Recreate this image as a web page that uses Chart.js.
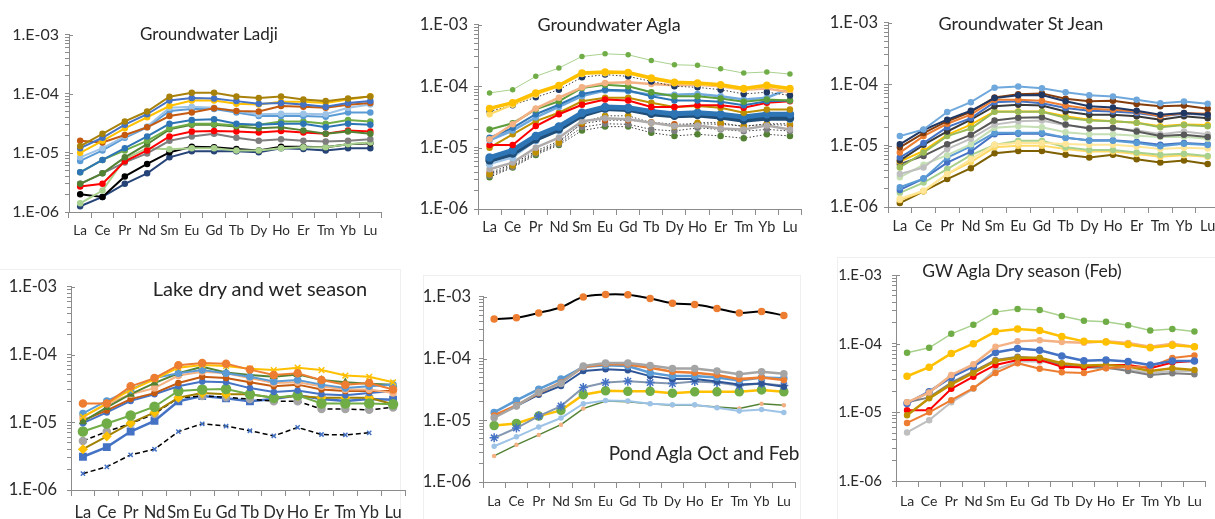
<!DOCTYPE html>
<html>
<head>
<meta charset="utf-8">
<script src="https://cdn.jsdelivr.net/npm/chart.js@4.4.1/dist/chart.umd.min.js"></script>
<style>
  html, body { margin: 0; padding: 0; width: 1215px; height: 519px; overflow: hidden; background: #fff; }
  canvas { position: absolute; }
  .ttl { position: absolute; font-family: Lato, "Open Sans", sans-serif; color: #262626; white-space: nowrap; transform: translate(-50%, -50%); }
  .frame { position: absolute; border: 1px solid #efefef; }
</style>
</head>
<body>
<div class="frame" style="left:-2px;top:269px;width:402px;height:260px;border-left:none;"></div>
<div class="frame" style="left:423px;top:275px;width:376px;height:260px;"></div>
<div class="frame" style="left:837px;top:257px;width:400px;height:270px;"></div>
<script>
// REE categories and axis labels
const elements = ['La', 'Ce', 'Pr', 'Nd', 'Sm', 'Eu', 'Gd', 'Tb', 'Dy', 'Ho', 'Er', 'Tm', 'Yb', 'Lu'];
const yTickLabels = ['1.E-06', '1.E-05', '1.E-04', '1.E-03'];

// Groundwater Ladji
const ladjiSeries = [
  [1.3e-5, 2.1e-5, 3.4e-5, 5.0e-5, 8.9e-5, 1.04e-4, 1.04e-4, 9.0e-5, 8.5e-5, 9.0e-5, 8.0e-5, 7.5e-5, 8.3e-5, 9.0e-5],
  [1.2e-5, 1.8e-5, 3.0e-5, 4.5e-5, 7.7e-5, 8.5e-5, 8.3e-5, 7.5e-5, 6.8e-5, 7.0e-5, 6.6e-5, 6.0e-5, 7.0e-5, 7.5e-5],
  [1.0e-5, 1.6e-5, 2.6e-5, 4.0e-5, 6.2e-5, 7.7e-5, 7.7e-5, 6.8e-5, 6.6e-5, 7.3e-5, 7.3e-5, 7.0e-5, 8.0e-5, 9.1e-5],
  [1.6e-5, 1.5e-5, 2.0e-5, 2.7e-5, 4.2e-5, 4.8e-5, 5.7e-5, 5.1e-5, 5.0e-5, 6.2e-5, 6.0e-5, 5.8e-5, 6.5e-5, 7.0e-5],
  [8.4e-6, 1.2e-5, 1.9e-5, 2.8e-5, 5.8e-5, 6.0e-5, 5.8e-5, 5.1e-5, 4.5e-5, 4.6e-5, 4.6e-5, 4.5e-5, 5.8e-5, 6.6e-5],
  [7.3e-6, 1.1e-5, 1.8e-5, 2.7e-5, 5.1e-5, 5.5e-5, 5.5e-5, 4.8e-5, 4.2e-5, 4.2e-5, 4.2e-5, 4.1e-5, 4.8e-5, 4.8e-5],
  [4.7e-6, 7.6e-6, 1.2e-5, 1.9e-5, 3.1e-5, 3.6e-5, 3.7e-5, 3.1e-5, 3.0e-5, 3.1e-5, 3.1e-5, 2.7e-5, 3.1e-5, 3.0e-5],
  [4.7e-6, 7.6e-6, 1.1e-5, 1.6e-5, 2.6e-5, 3.1e-5, 3.1e-5, 2.9e-5, 3.0e-5, 3.4e-5, 3.4e-5, 3.1e-5, 3.6e-5, 3.4e-5],
  [3.0e-6, 4.5e-6, 8.4e-6, 1.4e-5, 2.5e-5, 3.0e-5, 3.0e-5, 2.8e-5, 2.6e-5, 2.7e-5, 2.4e-5, 2.1e-5, 2.3e-5, 2.1e-5],
  [2.7e-6, 3.0e-6, 7.2e-6, 1.1e-5, 1.9e-5, 2.3e-5, 2.35e-5, 2.3e-5, 2.2e-5, 2.35e-5, 2.2e-5, 2.1e-5, 2.4e-5, 2.3e-5],
  [3.0e-6, 4.5e-6, 6.9e-6, 9.8e-6, 1.6e-5, 1.9e-5, 2.1e-5, 1.8e-5, 1.6e-5, 1.7e-5, 1.6e-5, 1.55e-5, 1.6e-5, 1.7e-5],
  [1.4e-6, 2.3e-6, 7.9e-6, 1.2e-5, 1.15e-5, 1.2e-5, 1.2e-5, 1.1e-5, 1.1e-5, 1.2e-5, 1.25e-5, 1.25e-5, 1.4e-5, 1.5e-5],
  [2.0e-6, 1.8e-6, 4.0e-6, 6.5e-6, 1.02e-5, 1.27e-5, 1.25e-5, 1.16e-5, 1.1e-5, 1.27e-5, 1.27e-5, 1.25e-5, 1.4e-5, 1.45e-5],
  [1.25e-6, 1.8e-6, 3.0e-6, 4.5e-6, 8.4e-6, 1.06e-5, 1.06e-5, 1.06e-5, 1.02e-5, 1.2e-5, 1.16e-5, 1.1e-5, 1.2e-5, 1.2e-5]
];

// Groundwater Agla
const aglaSeries = [
  [7.8e-5, 8.8e-5, 1.45e-4, 1.98e-4, 3.06e-4, 3.38e-4, 3.26e-4, 2.64e-4, 2.24e-4, 2.19e-4, 1.93e-4, 1.64e-4, 1.71e-4, 1.58e-4],
  [4.35e-5, 5.4e-5, 7.8e-5, 1.03e-4, 1.65e-4, 1.7e-4, 1.68e-4, 1.36e-4, 1.16e-4, 1.13e-4, 1.06e-4, 9.2e-5, 1.04e-4, 9.2e-5],
  [3.5e-5, 5.0e-5, 7.3e-5, 1.0e-4, 1.58e-4, 1.63e-4, 1.63e-4, 1.31e-4, 1.12e-4, 1.08e-4, 1.02e-4, 8.8e-5, 1.0e-4, 8.8e-5],
  [3.9e-5, 4.9e-5, 6.6e-5, 8.8e-5, 1.4e-4, 1.55e-4, 1.45e-4, 1.2e-4, 1.0e-4, 9.6e-5, 8.8e-5, 7.5e-5, 8.0e-5, 7.1e-5],
  [1.37e-5, 2.4e-5, 4.35e-5, 6.5e-5, 9.6e-5, 1.13e-4, 1.16e-4, 1.09e-4, 1.04e-4, 1.06e-4, 1.0e-4, 8.8e-5, 9.2e-5, 8.0e-5],
  [1.98e-5, 2.5e-5, 4.2e-5, 5.7e-5, 9.4e-5, 1.06e-4, 1.0e-4, 8.0e-5, 6.9e-5, 6.9e-5, 6.3e-5, 5.6e-5, 6.1e-5, 5.85e-5],
  [1.45e-5, 2.1e-5, 3.5e-5, 5.0e-5, 7.5e-5, 8.8e-5, 8.5e-5, 6.9e-5, 5.85e-5, 5.85e-5, 5.6e-5, 4.9e-5, 5.7e-5, 5.85e-5],
  [1.32e-5, 1.9e-5, 3.1e-5, 4.6e-5, 6.9e-5, 8.5e-5, 8.3e-5, 7.3e-5, 7.3e-5, 7.5e-5, 6.9e-5, 6.1e-5, 6.5e-5, 9.2e-5],
  [1.1e-5, 1.1e-5, 2.25e-5, 3.5e-5, 5.0e-5, 6.1e-5, 5.85e-5, 4.6e-5, 4.6e-5, 4.9e-5, 4.9e-5, 4.45e-5, 5.4e-5, 5.7e-5],
  [1.0e-5, 1.65e-5, 2.7e-5, 3.7e-5, 5.7e-5, 6.5e-5, 6.5e-5, 5.4e-5, 4.6e-5, 4.75e-5, 4.45e-5, 3.7e-5, 4.2e-5, 4.2e-5],
  [6.9e-6, 9.0e-6, 1.55e-5, 2.2e-5, 3.7e-5, 4.6e-5, 4.45e-5, 3.9e-5, 3.55e-5, 3.7e-5, 3.5e-5, 3.15e-5, 3.5e-5, 3.5e-5],
  [6.2e-6, 8.0e-6, 1.37e-5, 2.0e-5, 3.4e-5, 4.35e-5, 4.2e-5, 3.55e-5, 3.3e-5, 3.4e-5, 3.15e-5, 2.8e-5, 3.05e-5, 3.0e-5],
  [5.4e-6, 6.9e-6, 1.3e-5, 1.87e-5, 3.5e-5, 4.2e-5, 4.45e-5, 3.7e-5, 3.5e-5, 3.5e-5, 3.15e-5, 2.9e-5, 3.3e-5, 2.9e-5],
  [4.45e-6, 5.7e-6, 1.0e-5, 1.45e-5, 2.7e-5, 3.0e-5, 2.9e-5, 2.55e-5, 2.25e-5, 2.3e-5, 2.05e-5, 1.98e-5, 2.3e-5, 1.98e-5],
  [3.7e-6, 5.1e-6, 8.3e-6, 1.2e-5, 2.55e-5, 3.3e-5, 3.3e-5, 2.55e-5, 2.2e-5, 2.55e-5, 2.55e-5, 2.2e-5, 2.45e-5, 2.45e-5],
  [3.9e-6, 5.4e-6, 8.8e-6, 1.28e-5, 2.45e-5, 2.8e-5, 2.8e-5, 2.6e-5, 2.4e-5, 2.45e-5, 2.4e-5, 2.25e-5, 2.4e-5, 2.3e-5],
  [3.5e-6, 4.9e-6, 8.0e-6, 1.15e-5, 2.16e-5, 2.45e-5, 2.4e-5, 1.98e-5, 1.87e-5, 2.1e-5, 1.98e-5, 1.85e-5, 1.98e-5, 1.87e-5],
  [3.3e-6, 4.75e-6, 7.6e-6, 1.1e-5, 1.9e-5, 2.2e-5, 2.2e-5, 1.75e-5, 1.55e-5, 1.65e-5, 1.55e-5, 1.42e-5, 1.65e-5, 1.55e-5]
];

// Groundwater St Jean
const stJeanSeries = [
  [1.43e-5, 1.83e-5, 3.53e-5, 5.1e-5, 8.8e-5, 9.2e-5, 8.6e-5, 7.4e-5, 6.6e-5, 6.3e-5, 5.6e-5, 4.9e-5, 5.25e-5, 4.8e-5],
  [1.05e-5, 1.8e-5, 2.65e-5, 3.7e-5, 5.95e-5, 6.6e-5, 6.7e-5, 5.3e-5, 4.4e-5, 4.2e-5, 3.7e-5, 3.2e-5, 3.4e-5, 3.2e-5],
  [9.4e-6, 1.6e-5, 2.5e-5, 3.55e-5, 6.1e-5, 6.9e-5, 7.1e-5, 5.8e-5, 5.3e-5, 5.4e-5, 4.75e-5, 4.4e-5, 4.5e-5, 4.0e-5],
  [7.7e-6, 1.43e-5, 2.27e-5, 3.2e-5, 5.6e-5, 5.6e-5, 5.4e-5, 4.5e-5, 4.0e-5, 3.85e-5, 3.6e-5, 3.0e-5, 3.4e-5, 3.3e-5],
  [6.4e-6, 1.1e-5, 2.0e-5, 2.8e-5, 5.1e-5, 5.3e-5, 4.9e-5, 4.1e-5, 3.7e-5, 3.6e-5, 3.4e-5, 3.0e-5, 3.3e-5, 3.2e-5],
  [5.7e-6, 1.03e-5, 1.7e-5, 2.65e-5, 4.4e-5, 4.65e-5, 4.5e-5, 3.6e-5, 3.2e-5, 3.2e-5, 3.0e-5, 2.65e-5, 3.0e-5, 2.8e-5],
  [4.4e-6, 7.7e-6, 1.43e-5, 1.9e-5, 3.55e-5, 3.55e-5, 3.55e-5, 2.85e-5, 2.56e-5, 2.5e-5, 2.35e-5, 2.0e-5, 2.16e-5, 2.07e-5],
  [5.5e-6, 8.2e-6, 1.5e-5, 2.2e-5, 3.6e-5, 3.6e-5, 3.6e-5, 3.0e-5, 2.65e-5, 2.5e-5, 2.35e-5, 2.07e-5, 2.2e-5, 2.16e-5],
  [5.0e-6, 6.8e-6, 1.05e-5, 1.5e-5, 2.56e-5, 2.85e-5, 2.9e-5, 2.2e-5, 1.9e-5, 1.95e-5, 1.7e-5, 1.43e-5, 1.5e-5, 1.38e-5],
  [3.45e-6, 4.4e-6, 8.8e-6, 1.3e-5, 2.2e-5, 2.5e-5, 2.56e-5, 2.15e-5, 1.95e-5, 1.9e-5, 1.78e-5, 1.53e-5, 1.7e-5, 1.53e-5],
  [3.05e-6, 4.9e-6, 7.0e-6, 1.05e-5, 1.95e-5, 2.07e-5, 2.0e-5, 1.65e-5, 1.53e-5, 1.53e-5, 1.45e-5, 1.38e-5, 1.4e-5, 1.3e-5],
  [2.1e-6, 2.9e-6, 6.4e-6, 9.7e-6, 1.62e-5, 1.62e-5, 1.62e-5, 1.35e-5, 1.2e-5, 1.2e-5, 1.1e-5, 9.8e-6, 1.07e-5, 1.02e-5],
  [1.9e-6, 2.9e-6, 5.3e-6, 8.0e-6, 1.53e-5, 1.56e-5, 1.56e-5, 1.35e-5, 1.22e-5, 1.22e-5, 1.15e-5, 1.03e-5, 1.1e-5, 1.05e-5],
  [1.36e-6, 1.85e-6, 3.45e-6, 6.0e-6, 1.03e-5, 1.1e-5, 1.1e-5, 1.06e-5, 1.03e-5, 1.03e-5, 9.7e-6, 8.8e-6, 9.2e-6, 9.0e-6],
  [1.7e-6, 2.5e-6, 4.15e-6, 7.0e-6, 1.03e-5, 1.2e-5, 1.2e-5, 9.4e-6, 8.5e-6, 8.5e-6, 7.7e-6, 7.1e-6, 7.4e-6, 6.8e-6],
  [1.3e-6, 1.8e-6, 3.45e-6, 5.4e-6, 9.4e-6, 1.0e-5, 1.0e-5, 8.8e-6, 8.0e-6, 8.0e-6, 7.3e-6, 6.6e-6, 7.0e-6, 6.6e-6],
  [1.16e-6, 1.8e-6, 2.85e-6, 4.3e-6, 7.5e-6, 8.2e-6, 8.2e-6, 7.1e-6, 6.4e-6, 7.1e-6, 6.0e-6, 5.3e-6, 5.7e-6, 5.0e-6]
];

// Lake dry and wet season
const lakeSeries = [
  [1.9e-5, 1.9e-5, 3.4e-5, 4.5e-5, 6.95e-5, 7.5e-5, 7.35e-5, 6.0e-5, 5.0e-5, 5.3e-5, 4.2e-5, 3.6e-5, 3.8e-5, 3.05e-5],
  [1.2e-5, 1.9e-5, 3.0e-5, 4.3e-5, 6.4e-5, 7.0e-5, 6.8e-5, 6.2e-5, 5.9e-5, 6.4e-5, 5.9e-5, 4.9e-5, 4.7e-5, 3.9e-5],
  [1.35e-5, 2.07e-5, 3.0e-5, 4.5e-5, 5.3e-5, 5.9e-5, 5.3e-5, 4.7e-5, 4.0e-5, 4.2e-5, 3.6e-5, 3.2e-5, 3.4e-5, 3.6e-5],
  [1.02e-5, 1.66e-5, 2.6e-5, 3.8e-5, 5.3e-5, 6.6e-5, 5.45e-5, 5.0e-5, 4.7e-5, 5.1e-5, 4.2e-5, 3.9e-5, 3.7e-5, 3.6e-5],
  [1.2e-5, 1.85e-5, 2.6e-5, 3.2e-5, 4.9e-5, 5.6e-5, 5.3e-5, 4.5e-5, 3.8e-5, 3.9e-5, 3.4e-5, 3.05e-5, 3.05e-5, 2.7e-5],
  [1.07e-5, 1.5e-5, 2.2e-5, 2.7e-5, 3.8e-5, 4.7e-5, 4.5e-5, 3.9e-5, 3.4e-5, 3.6e-5, 3.05e-5, 2.9e-5, 2.9e-5, 2.9e-5],
  [9.7e-6, 1.4e-5, 2.07e-5, 2.6e-5, 3.4e-5, 4.0e-5, 3.9e-5, 3.2e-5, 2.8e-5, 2.95e-5, 2.6e-5, 2.5e-5, 2.7e-5, 2.9e-5],
  [7.3e-6, 9.6e-6, 1.26e-5, 1.7e-5, 2.9e-5, 3.05e-5, 3.1e-5, 2.6e-5, 2.3e-5, 2.5e-5, 1.9e-5, 1.9e-5, 1.9e-5, 1.85e-5],
  [4.0e-6, 6.2e-6, 9.7e-6, 1.4e-5, 2.3e-5, 2.7e-5, 2.6e-5, 2.6e-5, 2.3e-5, 2.45e-5, 2.3e-5, 2.3e-5, 2.3e-5, 1.85e-5],
  [5.3e-6, 7.3e-6, 9.6e-6, 1.33e-5, 2.3e-5, 2.45e-5, 2.35e-5, 2.2e-5, 2.05e-5, 2.05e-5, 1.57e-5, 1.57e-5, 1.53e-5, 1.66e-5],
  [3.1e-6, 4.3e-6, 7.3e-6, 1.05e-5, 2.05e-5, 2.45e-5, 2.27e-5, 2.05e-5, 2.2e-5, 2.5e-5, 2.2e-5, 2.07e-5, 2.2e-5, 2.15e-5],
  [1.75e-6, 2.2e-6, 3.3e-6, 4.0e-6, 7.3e-6, 9.5e-6, 8.8e-6, 7.5e-6, 6.3e-6, 8.4e-6, 6.6e-6, 6.5e-6, 7.0e-6, null]
];

// Pond Agla Oct and Feb
const pondSeries = [
  [4.4e-4, 4.6e-4, 5.5e-4, 6.8e-4, 1.0e-3, 1.09e-3, 1.08e-3, 9.4e-4, 7.9e-4, 7.5e-4, 6.5e-4, 5.5e-4, 5.8e-4, 5.0e-4],
  [1.1e-5, 1.7e-5, 2.85e-5, 3.95e-5, 7.6e-5, 8.5e-5, 8.5e-5, 7.75e-5, 6.9e-5, 6.9e-5, 6.3e-5, 5.6e-5, 6.1e-5, 5.7e-5],
  [1.2e-5, 1.75e-5, 2.75e-5, 4.1e-5, 7.3e-5, 8.2e-5, 8.0e-5, 7.1e-5, 6.1e-5, 5.9e-5, 5.4e-5, 4.65e-5, 4.95e-5, 4.5e-5],
  [1.34e-5, 2.1e-5, 3.2e-5, 4.65e-5, 7.3e-5, 7.8e-5, 7.6e-5, 5.9e-5, 5.2e-5, 5.2e-5, 4.95e-5, 4.4e-5, 4.95e-5, 4.8e-5],
  [1.15e-5, 1.7e-5, 2.6e-5, 3.6e-5, 6.3e-5, 6.7e-5, 6.45e-5, 5.2e-5, 4.65e-5, 4.65e-5, 4.25e-5, 3.8e-5, 3.95e-5, 3.5e-5],
  [5.2e-6, 7.5e-6, 1.17e-5, 1.7e-5, 3.4e-5, 4.1e-5, 4.3e-5, 4.1e-5, 3.95e-5, 4.25e-5, 4.1e-5, 3.65e-5, 3.95e-5, 3.65e-5],
  [8.2e-6, 8.9e-6, 1.17e-5, 1.45e-5, 2.6e-5, 3.0e-5, 2.95e-5, 2.95e-5, 2.75e-5, 2.9e-5, 2.9e-5, 2.9e-5, 3.1e-5, 2.9e-5],
  [3.8e-6, 5.4e-6, 7.8e-6, 1.09e-5, 1.86e-5, 2.1e-5, 2.05e-5, 1.86e-5, 1.78e-5, 1.78e-5, 1.6e-5, 1.42e-5, 1.5e-5, 1.34e-5],
  [2.65e-6, 4.0e-6, 5.8e-6, 8.5e-6, 1.55e-5, 2.05e-5, 2.0e-5, 1.86e-5, 1.75e-5, 1.75e-5, 1.65e-5, 1.55e-5, 1.86e-5, 1.75e-5]
];

// GW Agla Dry season (Feb)
const aglaDrySeries = [
  [7.4e-5, 8.7e-5, 1.39e-4, 1.88e-4, 2.88e-4, 3.2e-4, 3.1e-4, 2.53e-4, 2.15e-4, 2.08e-4, 1.86e-4, 1.55e-4, 1.63e-4, 1.5e-4],
  [3.35e-5, 4.55e-5, 7.2e-5, 1.0e-4, 1.5e-4, 1.63e-4, 1.55e-4, 1.27e-4, 1.08e-4, 1.06e-4, 9.7e-5, 8.7e-5, 9.5e-5, 9.0e-5],
  [1.4e-5, 1.94e-5, 3.5e-5, 5.0e-5, 9.0e-5, 1.08e-4, 1.12e-4, 1.06e-4, 1.03e-4, 1.08e-4, 1.02e-4, 9.0e-5, 1.0e-4, 9.0e-5],
  [1.35e-5, 2.0e-5, 3.25e-5, 4.65e-5, 7.45e-5, 8.5e-5, 8.0e-5, 6.6e-5, 5.65e-5, 5.8e-5, 5.5e-5, 4.9e-5, 5.6e-5, 5.6e-5],
  [7.0e-6, 1.0e-5, 1.5e-5, 2.25e-5, 3.75e-5, 5.2e-5, 4.3e-5, 3.85e-5, 3.75e-5, 4.4e-5, 4.6e-5, 4.6e-5, 6.2e-5, 6.7e-5],
  [9.1e-6, 1.6e-5, 2.55e-5, 3.75e-5, 5.6e-5, 6.25e-5, 6.25e-5, 5.2e-5, 4.8e-5, 4.9e-5, 4.65e-5, 4.0e-5, 4.4e-5, 4.15e-5],
  [1.07e-5, 1.07e-5, 2.2e-5, 3.3e-5, 4.9e-5, 5.8e-5, 5.8e-5, 4.6e-5, 4.5e-5, 4.9e-5, 4.9e-5, 4.4e-5, 5.3e-5, 5.6e-5],
  [1.4e-5, 1.65e-5, 2.7e-5, 3.95e-5, 5.8e-5, 6.45e-5, 6.1e-5, 4.9e-5, 4.5e-5, 4.5e-5, 4.0e-5, 3.5e-5, 3.7e-5, 3.6e-5],
  [5.1e-6, 7.7e-6, 1.4e-5, 2.2e-5, 4.2e-5, 5.5e-5, 5.5e-5, 5.0e-5, 4.65e-5, 4.4e-5, 4.2e-5, 3.75e-5, 4.0e-5, 3.95e-5]
];

// ---- styles (colour, line width, marker) ----
const AXIS = '#8c8c8c';
const TXT = '#2b2b2b';
const FONT = 'Lato, "Open Sans", sans-serif';
const DOT = [1.5, 2];
const DASH = [5, 3];

const ladjiStyle = [
  { c: '#A8820A' }, { c: '#4472C4' }, { c: '#FFC000' }, { c: '#C55A11' }, { c: '#9DC3E6' },
  { c: '#5B9BD5' }, { c: '#2E75B6' }, { c: '#70AD47' }, { c: '#548235' }, { c: '#FF0000' },
  { c: '#7F7F7F' }, { c: '#A9D18E' }, { c: '#000000' }, { c: '#264478' }
];
const aglaStyle = [
  { c: '#70AD47', line: '#A9D18E', w: 1, r: 2 },
  { c: '#FFC000', w: 3.5, r: 3 },
  { c: '#FFD966', w: 2 },
  { c: '#1F3864', line: '#404040', w: 1, d: DOT },
  { c: '#F4B183', w: 2.5 },
  { c: '#5E9E3A', w: 2 },
  { c: '#2E75B6', w: 2 },
  { c: '#6FA8DC', w: 2.5 },
  { c: '#FF0000', w: 2 },
  { c: '#BF9000', w: 2 },
  { c: '#2E75B6', w: 5, r: 3.5 },
  { c: '#1F4E79', w: 5, r: 3.5 },
  { c: '#9DC3E6', w: 2, r: 3 },
  { c: '#AFABAB', w: 2.5 },
  { c: '#BF9000', line: '#404040', w: 1, d: DOT },
  { c: '#C55A11', line: '#404040', w: 1, d: DOT },
  { c: '#7F7F7F', line: '#404040', w: 1, d: DOT },
  { c: '#548235', line: '#404040', w: 1, d: DOT }
];
const stJeanStyle = [
  { c: '#6FA8DC' }, { c: '#203864' }, { c: '#843C0C' }, { c: '#ED7D31' }, { c: '#4472C4' },
  { c: '#3A3A3A' }, { c: '#9BBB59' }, { c: '#FFC000' }, { c: '#595959' }, { c: '#BFBFBF' },
  { c: '#C5E0B4' }, { c: '#5B9BD5' }, { c: '#4472C4' }, { c: '#FFE699' }, { c: '#A9D18E' },
  { c: '#FFD966' }, { c: '#7F6000' }
];
const lakeStyle = [
  { c: '#ED7D31', r: 3.5 },
  { c: '#FFC000', p: 'crossRot', r: 4 },
  { c: '#5B9BD5', r: 3 },
  { c: '#548235', p: 'triangle', r: 3.5 },
  { c: '#F4B183', r: 3 },
  { c: '#C55A11' },
  { c: '#4472C4' },
  { c: '#70AD47', r: 4.5 },
  { c: '#FFC000', line: '#A08000', p: 'rectRot', r: 4 },
  { c: '#A5A5A5', line: '#000000', w: 1.5, d: DASH, r: 3.5 },
  { c: '#4472C4', p: 'rect', r: 4.5, w: 2.5 },
  { c: '#4472C4', line: '#000000', w: 1.5, d: DASH, p: 'crossRot', r: 3 }
];
const pondStyle = [
  { c: '#ED7D31', line: '#000000', w: 2, r: 3, t: 0.35 },
  { c: '#A5A5A5', w: 2.5, r: 3 },
  { c: '#ED7D31', w: 2.5 },
  { c: '#5B9BD5', w: 2.5, r: 3 },
  { c: '#2F5597', w: 2 },
  { c: '#4472C4', line: '#8497B0', w: 2, p: 'star', r: 4.5 },
  { c: '#70AD47', line: '#FFC000', w: 2.5, r: 4 },
  { c: '#9DC3E6', w: 2, r: 2 },
  { c: '#F4B183', line: '#548235', w: 1.5, r: 1.5 }
];
const aglaDryStyle = [
  { c: '#70AD47', line: '#A9D18E', w: 1.5 },
  { c: '#FFC000', w: 2.5, r: 3 },
  { c: '#F4B183', w: 2.5 },
  { c: '#4472C4', w: 2.5, r: 3 },
  { c: '#ED7D31', w: 2 },
  { c: '#BF9000', w: 2.5 },
  { c: '#FF0000', w: 2 },
  { c: '#7F7F7F', w: 2 },
  { c: '#BFBFBF', w: 2 }
];

// ---- helpers ----
function tickLabel(v) {
  const e = Math.round(Math.log10(v));
  if (Math.abs(v / Math.pow(10, e) - 1) > 1e-6) return '';
  return yTickLabels[e + 6] || '';
}

function makeSets(series, styles) {
  return series.map((vals, i) => {
    const s = styles[i];
    return {
      data: vals,
      borderColor: s.line || s.c,
      backgroundColor: s.c,
      pointBackgroundColor: s.c,
      pointBorderColor: s.c,
      pointBorderWidth: 1.5,
      borderWidth: s.w || 2,
      pointRadius: s.r || 2.5,
      pointStyle: s.p || 'circle',
      borderDash: s.d || [],
      tension: s.t || 0,
      spanGaps: false,
      clip: false
    };
  });
}

// major decade ticks cross the axis line
const crossTicks = {
  id: 'crossTicks',
  afterDraw(chart) {
    const y = chart.scales.y, ctx = chart.ctx;
    ctx.save();
    ctx.strokeStyle = AXIS;
    ctx.lineWidth = 1;
    y.ticks.forEach(t => {
      if (!tickLabel(t.value)) return;
      const py = Math.round(y.getPixelForValue(t.value)) + 0.5;
      ctx.beginPath();
      ctx.moveTo(y.right, py);
      ctx.lineTo(y.right + 4, py);
      ctx.stroke();
    });
    ctx.restore();
  }
};

function drawPanel(p, series, styles) {
  const cv = document.createElement('canvas');
  const left = p.L - 65, top = p.T - 14;
  cv.width = p.R - left + 4;
  cv.height = p.B - top + 40;
  cv.style.left = left + 'px';
  cv.style.top = top + 'px';
  document.body.appendChild(cv);

  new Chart(cv, {
    type: 'line',
    data: { labels: elements, datasets: makeSets(series, styles) },
    options: {
      responsive: false,
      animation: false,
      layout: { padding: { top: 14, right: 4, left: 0, bottom: 0 } },
      plugins: { legend: { display: false }, tooltip: { enabled: false } },
      scales: {
        x: {
          type: 'category',
          offset: true,
          grid: { offset: true, drawOnChartArea: false, tickLength: 6, color: AXIS },
          border: { color: AXIS },
          ticks: { autoSkip: false, maxRotation: 0, padding: p.xPad, color: TXT, font: { family: FONT, size: p.xFont } },
          afterFit(s) { s.height = 40; }
        },
        y: {
          type: 'logarithmic',
          min: 1e-6,
          max: 1e-3,
          grid: { drawOnChartArea: false, tickLength: 4, color: AXIS },
          border: { color: AXIS },
          ticks: { autoSkip: false, padding: p.yPad, color: TXT, font: { family: FONT, size: p.yFont }, callback: v => tickLabel(v) },
          afterBuildTicks(s) {
            s.ticks = s.ticks.filter(t => {
              const m = t.value / Math.pow(10, Math.floor(Math.log10(t.value) + 1e-9));
              return Math.abs(m - Math.round(m)) < 1e-6;
            });
          },
          afterFit(s) { s.width = 65; }
        }
      }
    },
    plugins: [crossTicks]
  });

  const t = document.createElement('div');
  t.className = 'ttl';
  t.textContent = p.title;
  t.style.left = p.tx + 'px';
  t.style.top = p.ty + 'px';
  t.style.fontSize = p.tFont + 'px';
  document.body.appendChild(t);
}

drawPanel({ L: 69, R: 383, T: 33, B: 212, xFont: 13.5, xPad: 5, yFont: 16, yPad: 6,
  title: 'Groundwater Ladji', tx: 209, ty: 33, tFont: 17 }, ladjiSeries, ladjiStyle);
drawPanel({ L: 478, R: 803, T: 23, B: 209, xFont: 14.5, xPad: 4, yFont: 16.5, yPad: 6,
  title: 'Groundwater Agla', tx: 609, ty: 24, tFont: 18 }, aglaSeries, aglaStyle);
drawPanel({ L: 888, R: 1221, T: 21, B: 207, xFont: 14.5, xPad: 5, yFont: 16.5, yPad: 6,
  title: 'Groundwater St Jean', tx: 1021, ty: 23, tFont: 18 }, stJeanSeries, stJeanStyle);
drawPanel({ L: 71, R: 407, T: 281, B: 490, xFont: 16.5, xPad: 7, yFont: 16.5, yPad: 10,
  title: 'Lake dry and wet season', tx: 260, ty: 288, tFont: 20 }, lakeSeries, lakeStyle);
drawPanel({ L: 483, R: 797, T: 293, B: 482, xFont: 13.5, xPad: 6, yFont: 16.5, yPad: 8,
  title: 'Pond Agla Oct and Feb', tx: 704, ty: 452, tFont: 19 }, pondSeries, pondStyle);
drawPanel({ L: 896, R: 1207, T: 270, B: 481, xFont: 14, xPad: 6, yFont: 15, yPad: 10,
  title: 'GW Agla Dry season (Feb)', tx: 1022, ty: 270, tFont: 17.5 }, aglaDrySeries, aglaDryStyle);
</script>
</body>
</html>
